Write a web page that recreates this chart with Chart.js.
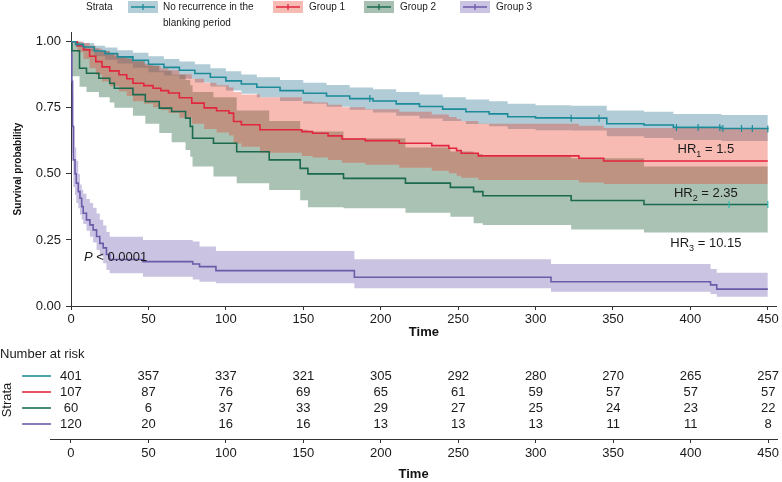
<!DOCTYPE html>
<html>
<head>
<meta charset="utf-8">
<script src="https://cdn.jsdelivr.net/npm/chart.js@4/dist/chart.umd.min.js"></script>
<style>
  html, body { margin: 0; padding: 0; background: #fff; }
  #wrap { width: 782px; height: 482px; }
  canvas { display: block; }
</style>
</head>
<body>
<div id="wrap">
  <canvas id="km" width="782" height="345"></canvas>
  <canvas id="risk" width="782" height="137"></canvas>
</div>
<script>
// tick values
const xTicks = [0, 50, 100, 150, 200, 250, 300, 350, 400, 450];
const yTicks = [0, 0.25, 0.5, 0.75, 1];

// No recurrence in the blanking period
const timeNoRec = [0, 3, 8, 15, 22, 30, 40, 50, 60, 70, 80, 90, 100, 110, 120, 135, 150, 165, 180, 195, 210, 225, 240, 255, 270, 282, 300, 323, 346, 370, 389, 420, 450];
const survNoRec = [1, 0.99, 0.98, 0.965, 0.955, 0.943, 0.93, 0.915, 0.903, 0.892, 0.88, 0.866, 0.852, 0.84, 0.828, 0.815, 0.805, 0.795, 0.785, 0.776, 0.765, 0.755, 0.745, 0.735, 0.727, 0.716, 0.712, 0.711, 0.69, 0.685, 0.676, 0.672, 0.670];
const upperNoRec = [1, 1, 0.995, 0.985, 0.978, 0.968, 0.958, 0.945, 0.935, 0.925, 0.915, 0.9, 0.888, 0.876, 0.866, 0.855, 0.845, 0.836, 0.827, 0.82, 0.81, 0.8, 0.79, 0.782, 0.775, 0.765, 0.76, 0.758, 0.74, 0.735, 0.727, 0.723, 0.72];
const lowerNoRec = [1, 0.98, 0.965, 0.945, 0.932, 0.918, 0.902, 0.885, 0.872, 0.86, 0.846, 0.831, 0.816, 0.803, 0.79, 0.776, 0.765, 0.754, 0.743, 0.732, 0.72, 0.71, 0.7, 0.689, 0.68, 0.67, 0.665, 0.664, 0.642, 0.636, 0.628, 0.624, 0.622];
const censorTimeNoRec = [193, 323, 341, 391, 405, 419, 421, 433, 440, 450];
const censorSurvNoRec = [0.785, 0.711, 0.711, 0.676, 0.676, 0.676, 0.672, 0.672, 0.672, 0.670];

// Group 1
const timeG1 = [0, 4, 8, 12, 16, 20, 25, 31, 36, 40, 47, 53, 58, 63, 70, 78, 86, 94, 102, 105, 110, 122, 149, 156, 166, 175, 190, 212, 233, 244, 249, 252, 263, 328, 344, 450];
const survG1 = [1, 0.985, 0.97, 0.945, 0.925, 0.905, 0.89, 0.875, 0.86, 0.843, 0.834, 0.824, 0.815, 0.806, 0.788, 0.768, 0.75, 0.739, 0.73, 0.698, 0.686, 0.667, 0.66, 0.654, 0.644, 0.632, 0.626, 0.616, 0.607, 0.597, 0.588, 0.578, 0.568, 0.559, 0.549, 0.549];
const upperG1 = [1, 1, 0.995, 0.985, 0.975, 0.965, 0.955, 0.945, 0.935, 0.925, 0.917, 0.908, 0.9, 0.892, 0.877, 0.86, 0.845, 0.835, 0.827, 0.81, 0.8, 0.79, 0.775, 0.77, 0.762, 0.752, 0.745, 0.735, 0.725, 0.715, 0.708, 0.7, 0.69, 0.682, 0.674, 0.674];
const lowerG1 = [1, 0.96, 0.935, 0.9, 0.875, 0.85, 0.832, 0.812, 0.795, 0.775, 0.765, 0.752, 0.742, 0.73, 0.712, 0.69, 0.67, 0.657, 0.645, 0.615, 0.603, 0.58, 0.568, 0.562, 0.553, 0.542, 0.535, 0.523, 0.512, 0.502, 0.493, 0.485, 0.477, 0.467, 0.462, 0.462];

// Group 2
const timeG2 = [0, 0.5, 5.5, 10, 18, 25, 28, 40, 48, 57, 65, 74, 77, 78.5, 92, 107, 128, 148, 153, 176, 216, 245, 260, 266, 323, 370, 450];
const survG2 = [1, 0.966, 0.9, 0.881, 0.862, 0.843, 0.824, 0.8, 0.774, 0.749, 0.736, 0.711, 0.68, 0.635, 0.616, 0.584, 0.553, 0.521, 0.5, 0.483, 0.465, 0.449, 0.433, 0.417, 0.399, 0.384, 0.384];
const upperG2 = [1, 1, 0.985, 0.975, 0.965, 0.955, 0.945, 0.93, 0.91, 0.89, 0.875, 0.855, 0.835, 0.81, 0.79, 0.74, 0.7, 0.667, 0.66, 0.635, 0.6, 0.585, 0.575, 0.566, 0.559, 0.528, 0.528];
const lowerG2 = [1, 0.87, 0.83, 0.81, 0.79, 0.77, 0.75, 0.72, 0.69, 0.655, 0.62, 0.59, 0.565, 0.528, 0.49, 0.465, 0.439, 0.4, 0.374, 0.37, 0.353, 0.338, 0.313, 0.307, 0.29, 0.278, 0.278];
const censorTimeG2 = [425, 450];
const censorSurvG2 = [0.384, 0.384];

// Group 3
const timeG3 = [0, 0.5, 1, 1.5, 2.6, 3.4, 4.7, 5.8, 6.9, 7.9, 10, 12.2, 14.3, 16.5, 18.6, 20.8, 22.9, 25, 46.5, 78.6, 83, 93.6, 183, 310, 413, 417, 450];
const survG3 = [1, 0.85, 0.68, 0.553, 0.5, 0.465, 0.433, 0.408, 0.376, 0.351, 0.326, 0.307, 0.288, 0.263, 0.237, 0.22, 0.195, 0.176, 0.168, 0.159, 0.149, 0.134, 0.109, 0.092, 0.08, 0.064, 0.064];
const upperG3 = [1, 0.95, 0.8, 0.68, 0.6, 0.55, 0.5, 0.46, 0.44, 0.425, 0.405, 0.39, 0.372, 0.35, 0.326, 0.305, 0.28, 0.262, 0.25, 0.244, 0.225, 0.208, 0.177, 0.159, 0.14, 0.126, 0.126];
const lowerG3 = [1, 0.75, 0.58, 0.45, 0.42, 0.39, 0.37, 0.345, 0.326, 0.31, 0.285, 0.262, 0.24, 0.212, 0.188, 0.162, 0.136, 0.124, 0.111, 0.1, 0.092, 0.086, 0.067, 0.054, 0.045, 0.035, 0.035];

// number at risk table
const riskTimes = [0, 50, 100, 150, 200, 250, 300, 350, 400, 450];
const riskNoRec = [401, 357, 337, 321, 305, 292, 280, 270, 265, 257];
const riskG1 = [107, 87, 76, 69, 65, 61, 59, 57, 57, 57];
const riskG2 = [60, 6, 37, 33, 29, 27, 25, 24, 23, 22];
const riskG3 = [120, 20, 16, 16, 13, 13, 13, 11, 11, 8];

// text annotations (placed in data units)
const hrLabels = [
  {sub: '1', value: '1.5', t: 410, s: 0.591},
  {sub: '2', value: '2.35', t: 410, s: 0.427},
  {sub: '3', value: '10.15', t: 410, s: 0.237}
];
const pLabel = {t: 8.4, s: 0.184};

const fam = "'Liberation Sans', Arial, Helvetica, sans-serif";
const axisColor = '#333333';
const textColor = '#1a1a1a';
Chart.defaults.font.family = fam;

const groups = [
  {name: 'No recurrence in the blanking period', t: timeNoRec, s: survNoRec, up: upperNoRec, lo: lowerNoRec,
   line: '#1d8c9a', band: 'rgba(40,115,140,0.36)', swatch: '#b3ced7', bandOrder: 4},
  {name: 'Group 1', t: timeG1, s: survG1, up: upperG1, lo: lowerG1,
   line: '#e2263e', band: 'rgba(232,60,40,0.35)', swatch: '#f6bbb3', bandOrder: 3},
  {name: 'Group 2', t: timeG2, s: survG2, up: upperG2, lo: lowerG2,
   line: '#1b6a4f', band: 'rgba(20,85,45,0.36)', swatch: '#a8c0b2', bandOrder: 5},
  {name: 'Group 3', t: timeG3, s: survG3, up: upperG3, lo: lowerG3,
   line: '#6b5ba8', band: 'rgba(110,90,175,0.36)', swatch: '#cbc3e2', bandOrder: 2}
];

const pts = (xs, ys) => xs.map((x, i) => ({x: x, y: ys[i]}));

const datasets = [];
groups.forEach(g => {
  datasets.push({label: g.name + ' upper', data: pts(g.t, g.up), stepped: true, borderWidth: 0,
    pointRadius: 0, fill: false, order: g.bandOrder});
  datasets.push({label: g.name + ' lower', data: pts(g.t, g.lo), stepped: true, borderWidth: 0,
    pointRadius: 0, fill: '-1', backgroundColor: g.band, order: g.bandOrder});
});
groups.forEach(g => {
  datasets.push({label: g.name, data: pts(g.t, g.s), stepped: true, borderColor: g.line,
    borderWidth: 1.6, pointRadius: 0, fill: false, order: 1});
});
datasets.push({label: 'censor no rec', data: pts(censorTimeNoRec, censorSurvNoRec), showLine: false,
  pointStyle: 'line', rotation: 90, pointRadius: 3.5, borderColor: '#1d8c9a', borderWidth: 1.2, order: 0});
datasets.push({label: 'censor g2', data: pts(censorTimeG2, censorSurvG2), showLine: false,
  pointStyle: 'line', rotation: 90, pointRadius: 3.5, borderColor: '#32b8b0', borderWidth: 1.2, order: 0});

// legend + annotations
const kmDecor = {
  id: 'kmDecor',
  afterDraw(chart) {
    const ctx = chart.ctx;
    const xs = chart.scales.x, ys = chart.scales.y;
    ctx.save();
    // legend
    ctx.fillStyle = textColor;
    ctx.font = '10px ' + fam;
    ctx.textBaseline = 'middle';
    ctx.textAlign = 'left';
    ctx.fillText('Strata', 86, 7);
    const legendPos = [128, 273, 364, 460];
    groups.forEach((g, i) => {
      const x0 = legendPos[i];
      ctx.fillStyle = g.swatch;
      ctx.fillRect(x0, 1, 30, 12);
      ctx.strokeStyle = g.line;
      ctx.lineWidth = 1.3;
      ctx.beginPath();
      ctx.moveTo(x0 + 3, 7); ctx.lineTo(x0 + 27, 7);
      ctx.moveTo(x0 + 15, 4); ctx.lineTo(x0 + 15, 10);
      ctx.stroke();
      ctx.fillStyle = textColor;
      if (i === 0) {
        ctx.fillText('No recurrence in the', x0 + 35, 7);
        ctx.fillText('blanking period', x0 + 35, 23);
      } else {
        ctx.fillText(g.name, x0 + 36, 7);
      }
    });
    // HR labels
    hrLabels.forEach(h => {
      const cx = xs.getPixelForValue(h.t), cy = ys.getPixelForValue(h.s);
      ctx.font = '13px ' + fam;
      const wa = ctx.measureText('HR').width;
      const wb = ctx.measureText(' = ' + h.value).width;
      ctx.font = '9px ' + fam;
      const wsub = ctx.measureText(h.sub).width;
      let x = cx - (wa + wsub + wb) / 2;
      ctx.fillStyle = textColor;
      ctx.font = '13px ' + fam;
      ctx.fillText('HR', x, cy); x += wa;
      ctx.font = '9px ' + fam;
      ctx.fillText(h.sub, x, cy + 5); x += wsub;
      ctx.font = '13px ' + fam;
      ctx.fillText(' = ' + h.value, x, cy);
    });
    // P value
    const px = xs.getPixelForValue(pLabel.t), py = ys.getPixelForValue(pLabel.s);
    ctx.font = 'italic 13px ' + fam;
    ctx.fillText('P', px, py);
    const wp = ctx.measureText('P').width;
    ctx.font = '13px ' + fam;
    ctx.fillText(' < 0.0001', px + wp, py);
    ctx.restore();
  }
};

new Chart(document.getElementById('km'), {
  type: 'line',
  data: {datasets: datasets},
  options: {
    responsive: false,
    animation: false,
    layout: {padding: {left: 0, right: 2, top: 32, bottom: 0}},
    plugins: {legend: {display: false}, tooltip: {enabled: false}},
    scales: {
      x: {
        type: 'linear', min: 0, max: 455.8,
        afterBuildTicks: s => { s.ticks = xTicks.map(v => ({value: v})); },
        afterFit: s => { s.height = 39; },
        grid: {drawOnChartArea: false, drawTicks: true, tickLength: 4, tickColor: axisColor},
        border: {color: axisColor, width: 1},
        ticks: {font: {size: 13}, color: textColor, padding: 2, maxRotation: 0},
        title: {display: true, text: 'Time', color: '#111', font: {size: 13, weight: 'bold'},
          padding: {top: 0, bottom: 5}}
      },
      y: {
        type: 'linear', min: 0, max: 1.037,
        afterBuildTicks: s => { s.ticks = yTicks.map(v => ({value: v})); },
        afterFit: s => { s.width = 71; },
        grid: {drawOnChartArea: false, drawTicks: true, tickLength: 5, tickColor: axisColor},
        border: {color: axisColor, width: 1},
        ticks: {font: {size: 13}, color: textColor, padding: 5, callback: v => Number(v).toFixed(2)},
        title: {display: true, text: 'Survival probability', color: '#111', font: {size: 10, weight: 'bold'},
          padding: {top: 12, bottom: 0}}
      }
    }
  },
  plugins: [kmDecor]
});

// risk table
const riskRows = [riskNoRec, riskG1, riskG2, riskG3];
const riskDecor = {
  id: 'riskDecor',
  afterDraw(chart) {
    const ctx = chart.ctx;
    const xs = chart.scales.x, ys = chart.scales.y;
    ctx.save();
    ctx.fillStyle = textColor;
    ctx.font = '13px ' + fam;
    ctx.textBaseline = 'middle';
    ctx.textAlign = 'left';
    ctx.fillText('Number at risk', 0, ys.getPixelForValue(-0.375));
    riskRows.forEach((row, r) => {
      const y = ys.getPixelForValue(r + 1);
      ctx.strokeStyle = groups[r].line;
      ctx.lineWidth = 1.6;
      ctx.beginPath();
      ctx.moveTo(xs.getPixelForValue(-31.5), y);
      ctx.lineTo(xs.getPixelForValue(-12.9), y);
      ctx.stroke();
      ctx.fillStyle = textColor;
      ctx.textAlign = 'center';
      row.forEach((n, j) => {
        ctx.fillText(String(n), xs.getPixelForValue(riskTimes[j]), y);
      });
    });
    ctx.translate(7, ys.getPixelForValue(2.5));
    ctx.rotate(-Math.PI / 2);
    ctx.textAlign = 'center';
    ctx.fillText('Strata', 0, 0);
    ctx.restore();
  }
};

new Chart(document.getElementById('risk'), {
  type: 'line',
  data: {datasets: []},
  options: {
    responsive: false,
    animation: false,
    layout: {padding: {left: 50, right: 2, top: 0, bottom: 0}},
    plugins: {legend: {display: false}, tooltip: {enabled: false}},
    scales: {
      x: {
        type: 'linear', min: -13.5, max: 455.8,
        afterBuildTicks: s => { s.ticks = xTicks.map(v => ({value: v})); },
        afterFit: s => { s.height = 43; },
        grid: {drawOnChartArea: false, drawTicks: true, tickLength: 4, tickColor: axisColor},
        border: {color: axisColor, width: 1},
        ticks: {font: {size: 13}, color: textColor, padding: 3, maxRotation: 0},
        title: {display: true, text: 'Time', color: '#111', font: {size: 13, weight: 'bold'},
          padding: {top: 0, bottom: 0}}
      },
      y: {type: 'linear', display: false, reverse: true, min: -0.9375, max: 4.9375}
    }
  },
  plugins: [riskDecor]
});
</script>
</body>
</html>
